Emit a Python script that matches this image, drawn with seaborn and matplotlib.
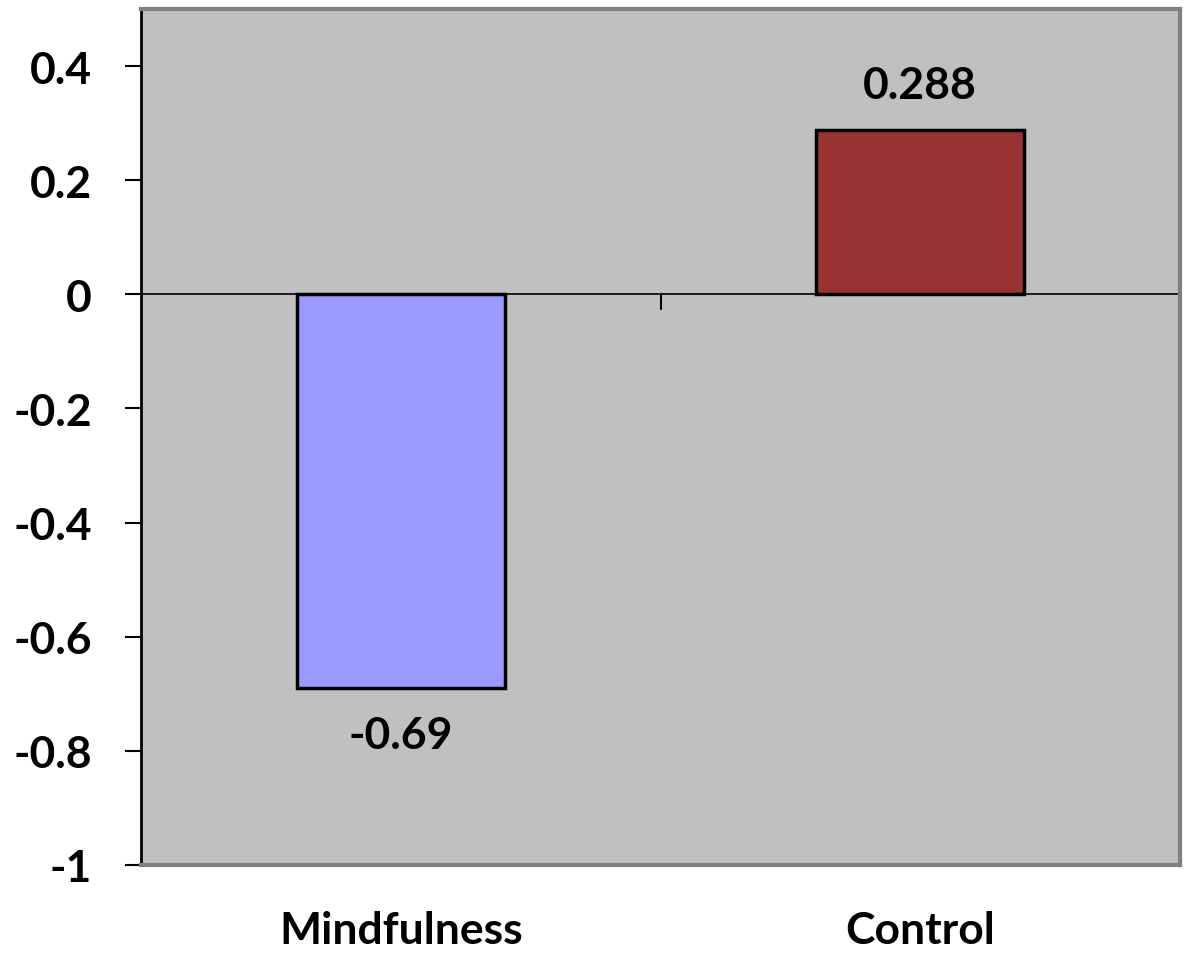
import matplotlib
matplotlib.use("Agg")
import matplotlib.pyplot as plt
import seaborn as sns
import pandas as pd

categories = ["Mindfulness", "Control"]
values = [-0.69, 0.288]
value_labels = ["-0.69", "0.288"]
bar_colors = ["#9999FF", "#993333"]
yticks = [-1, -0.8, -0.6, -0.4, -0.2, 0, 0.2, 0.4]
ytick_labels = ["-1", "-0.8", "-0.6", "-0.4", "-0.2", "0", "0.2", "0.4"]

sns.set_theme(style="white")
plt.rcParams['font.family'] = ['Lato', 'DejaVu Sans']
plt.rcParams['text.color'] = 'black'
plt.rcParams['ytick.color'] = 'black'

FS = 32

df = pd.DataFrame({"cat": categories, "val": values})

fig = plt.figure(figsize=(11.88, 9.54), dpi=100)
ax = fig.add_axes([141/1188, 1 - 866/954, (1180-141)/1188, (866-10)/954])
sns.barplot(data=df, x="cat", y="val", hue="cat", palette=bar_colors,
            width=0.4, edgecolor="black", linewidth=2.5, legend=False, ax=ax,
            saturation=1)
ax.set_facecolor("#C0C0C0")
ax.set_xlim(-0.5, 1.5)
ax.set_ylim(-1, 0.5)
ax.set_yticks(yticks)
ax.set_yticklabels(ytick_labels, fontsize=FS, fontweight="bold", color="black")
ax.tick_params(axis="y", direction="out", length=11.5, width=1.5, color="black",
               left=True, pad=24, labelcolor="black")
ax.set_xticks([])
ax.set_xlabel("")
ax.set_ylabel("")

for s in ["top", "right", "bottom"]:
    ax.spines[s].set_color("#808080")
    ax.spines[s].set_linewidth(3)
ax.spines["left"].set_color("black")
ax.spines["left"].set_linewidth(2)

# zero axis line with boundary tick
ax.axhline(0, color="black", linewidth=1.2, zorder=1)
ax.plot([0.5, 0.5], [0, -0.025], color="black", linewidth=1.5)

# value labels
for i, (v, lab) in enumerate(zip(values, value_labels)):
    off = -43 if v < 0 else 23
    ax.annotate(lab, xy=(i, v), xytext=(0, off), textcoords="offset points",
                ha="center", va="baseline", fontsize=FS, fontweight="bold", color="black")

# category labels
for i, c in enumerate(categories):
    ax.text(i, -1.137, c, ha="center", va="baseline", fontsize=FS, fontweight="bold",
            color="black")

fig.savefig("out.png", dpi=100)
